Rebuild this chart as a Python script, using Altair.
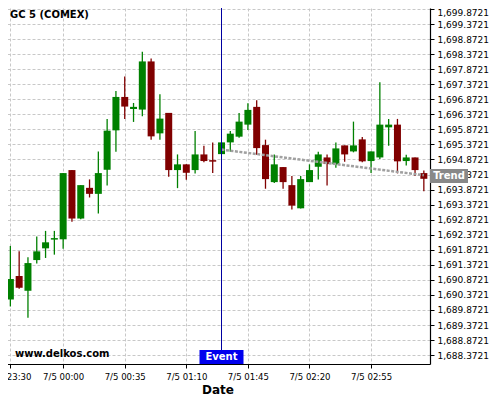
import json
import altair as alt
import pandas as pd

# ---- data ----
minutes = list(range(0, 240, 5))  # 5-minute candles starting 23:30
opens = [1690.22, 1691.00, 1690.51, 1691.53, 1691.92, 1692.21, 1692.22, 1694.52, 1692.91, 1693.93,
         1693.73, 1694.53, 1695.84, 1696.95, 1696.55, 1696.53, 1698.13, 1695.74, 1696.42, 1694.52,
         1694.71, 1694.52, 1695.04, 1694.85, 1695.05, 1695.44, 1695.63, 1696.03, 1696.62, 1695.35,
         1694.12, 1694.62, 1694.02, 1693.25, 1694.12, 1694.63, 1694.94, 1694.71, 1695.34, 1695.14,
         1695.54, 1694.82, 1694.94, 1695.94, 1696.03, 1694.82, 1694.94, 1694.42]
highs = [1692.00, 1691.82, 1691.62, 1692.31, 1692.50, 1692.50, 1694.42, 1694.52, 1694.02, 1694.21,
         1695.14, 1696.22, 1697.15, 1697.63, 1696.75, 1698.45, 1698.23, 1697.04, 1696.42, 1695.04,
         1694.71, 1695.82, 1695.33, 1695.44, 1695.44, 1695.82, 1696.42, 1696.74, 1696.84, 1695.53,
         1695.04, 1694.62, 1694.32, 1694.32, 1694.71, 1695.13, 1695.04, 1695.44, 1695.34, 1696.13,
         1695.62, 1695.14, 1697.44, 1696.22, 1696.22, 1695.03, 1694.94, 1694.51]
lows = [1689.99, 1690.58, 1689.61, 1691.42, 1691.60, 1691.71, 1691.91, 1692.80, 1692.89, 1693.61,
        1693.08, 1694.01, 1695.13, 1696.22, 1696.12, 1696.31, 1695.53, 1695.53, 1694.30, 1693.92,
        1694.20, 1694.41, 1694.78, 1694.42, 1695.05, 1695.13, 1695.59, 1695.85, 1695.03, 1693.90,
        1694.09, 1693.90, 1693.21, 1693.24, 1694.12, 1694.21, 1694.01, 1694.60, 1694.80, 1695.11,
        1694.78, 1694.42, 1694.89, 1695.33, 1694.41, 1694.67, 1694.32, 1693.82]
closes = [1690.90, 1690.61, 1691.43, 1691.82, 1692.12, 1692.26, 1694.42, 1692.91, 1694.02, 1693.73,
          1694.42, 1695.83, 1696.95, 1696.63, 1696.62, 1698.13, 1695.64, 1696.23, 1694.52, 1694.71,
          1694.43, 1695.04, 1694.82, 1694.80, 1695.44, 1695.73, 1696.13, 1696.52, 1695.25, 1694.22,
          1694.71, 1694.12, 1693.34, 1694.22, 1694.52, 1695.04, 1694.72, 1695.24, 1695.04, 1695.34,
          1694.81, 1695.14, 1696.03, 1696.03, 1694.81, 1694.94, 1694.52, 1694.23]

x_tick_values = [0, 30, 65, 100, 135, 170, 205]
x_tick_labels = ["7/5 23:30", "7/5 00:00", "7/5 00:35", "7/5 01:10", "7/5 01:45", "7/5 02:20", "7/5 02:55"]
y_tick_values = [round(1688.3721 + 0.5 * k, 4) for k in range(24)]
x_domain = [-3.05, 238.5]
y_domain = [1688.077, 1699.905]

event_minute = [120]
event_label = ["Event"]
trend_minutes = [120, 235]
trend_prices = [1695.20, 1694.35]
trend_label_price = [1694.32]
trend_label = ["Trend"]
title_text = "GC 5 (COMEX)"
watermark_text = "www.delkos.com"

FONT = "DejaVu Sans"

df = pd.DataFrame({"t": minutes, "open": opens, "high": highs, "low": lows, "close": closes})
df["dir"] = ["up" if c >= o else "down" for o, c in zip(opens, closes)]

xs = alt.Scale(domain=x_domain, nice=False, zero=False, padding=0)
ys = alt.Scale(domain=y_domain, nice=False, zero=False, padding=0)

label_expr = f"{json.dumps(x_tick_labels)}[indexof({json.dumps(x_tick_values)}, datum.value)]"

x_axis = alt.Axis(values=x_tick_values, labelExpr=label_expr, title="Date", grid=True,
                  labelFontSize=9.5, labelFont="DejaVu Sans Condensed, DejaVu Sans", tickSize=4, labelPadding=3,
                  titleFontSize=12, titleFontWeight="bold", titleBaseline="alphabetic", titleY=29,
                  labelFlush=False, domainWidth=1.2)
y_axis = alt.Axis(orient="right", values=y_tick_values, format=",.4f", title="", grid=True,
                  labelFontSize=9, tickSize=4, labelPadding=3, domainWidth=1.2, labelFlush=False,
                  labelBaseline={"condition": {"test": f"datum.value > {y_tick_values[-1] - 0.1}", "value": "top"},
                                 "value": "middle"})


def X(field):
    return alt.X(field, scale=xs, axis=x_axis, title="Date")


def Y(field):
    return alt.Y(field, scale=ys, axis=y_axis, title="")


color = alt.Color("dir:N", scale=alt.Scale(domain=["up", "down"], range=["#008000", "#800000"]), legend=None)

wicks = alt.Chart(df).mark_rule(strokeWidth=1.3).encode(
    x=X("t:Q"), y=Y("low:Q"), y2="high:Q", color=color,
)
bodies = alt.Chart(df).mark_bar(size=7).encode(
    x=X("t:Q"), y=Y("open:Q"), y2="close:Q", color=color,
)

trend_df = pd.DataFrame({"t": trend_minutes, "p": trend_prices})
trend = alt.Chart(trend_df).mark_line(color="#a0a0a0", strokeWidth=2.5, strokeDash=[3, 1.5]).encode(
    x=X("t:Q"), y=Y("p:Q"),
)

event_df = pd.DataFrame({"t": event_minute, "ymin": [y_domain[0]], "label": event_label})
event_rule = alt.Chart(event_df).mark_rule(color="#0000a0", strokeWidth=1).encode(
    x=X("t:Q"),
)
event_box = alt.Chart(event_df).mark_rect(color="#0000ee", xOffset=-22, x2Offset=22, yOffset=-14, y2Offset=0).encode(
    x=X("t:Q"), x2="t:Q", y=Y("ymin:Q"), y2="ymin:Q",
)
event_text = alt.Chart(event_df).mark_text(color="white", font=FONT, fontSize=10, fontWeight="bold",
                                           align="center", baseline="middle", dy=-7).encode(
    x=X("t:Q"), y=Y("ymin:Q"), text="label:N",
)

tl_df = pd.DataFrame({"t": [x_domain[1]], "p": trend_label_price, "label": trend_label})
trend_box = alt.Chart(tl_df).mark_rect(color="#888888", xOffset=0, x2Offset=38, yOffset=-7, y2Offset=7).encode(
    x=X("t:Q"), x2="t:Q", y=Y("p:Q"), y2="p:Q",
)
trend_text = alt.Chart(tl_df).mark_text(color="white", font=FONT, fontSize=10, fontWeight="bold",
                                        align="center", baseline="middle", dx=19).encode(
    x=X("t:Q"), y=Y("p:Q"), text="label:N",
)

txt_df = pd.DataFrame({"a": [0]})
title_mark = alt.Chart(txt_df).mark_text(text=title_text, font=FONT, fontSize=10, fontWeight="bold",
                                         align="left", baseline="middle", color="black").encode(
    x=alt.value(5), y=alt.value(7))
watermark = alt.Chart(txt_df).mark_text(text=watermark_text, font=FONT, fontSize=10, fontWeight="bold",
                                        align="left", baseline="middle", color="black").encode(
    x=alt.value(10), y=alt.value(346))

chart = alt.layer(
    wicks, bodies, trend, event_rule, event_box, event_text, trend_box, trend_text, title_mark, watermark
).properties(
    width=425, height=356,
    autosize=alt.AutoSizeParams(type="none"),
    padding={"left": -3, "top": 0, "right": 62, "bottom": 36},
).configure_view(strokeWidth=0).configure_axis(
    labelFont=FONT, titleFont=FONT, labelColor="black", titleColor="black",
    domainColor="black", tickColor="black", gridColor="#c8c8c8", gridDash=[3, 2], gridWidth=1,
)

chart.save("out.html", embed_options={"renderer": "svg", "actions": False})
